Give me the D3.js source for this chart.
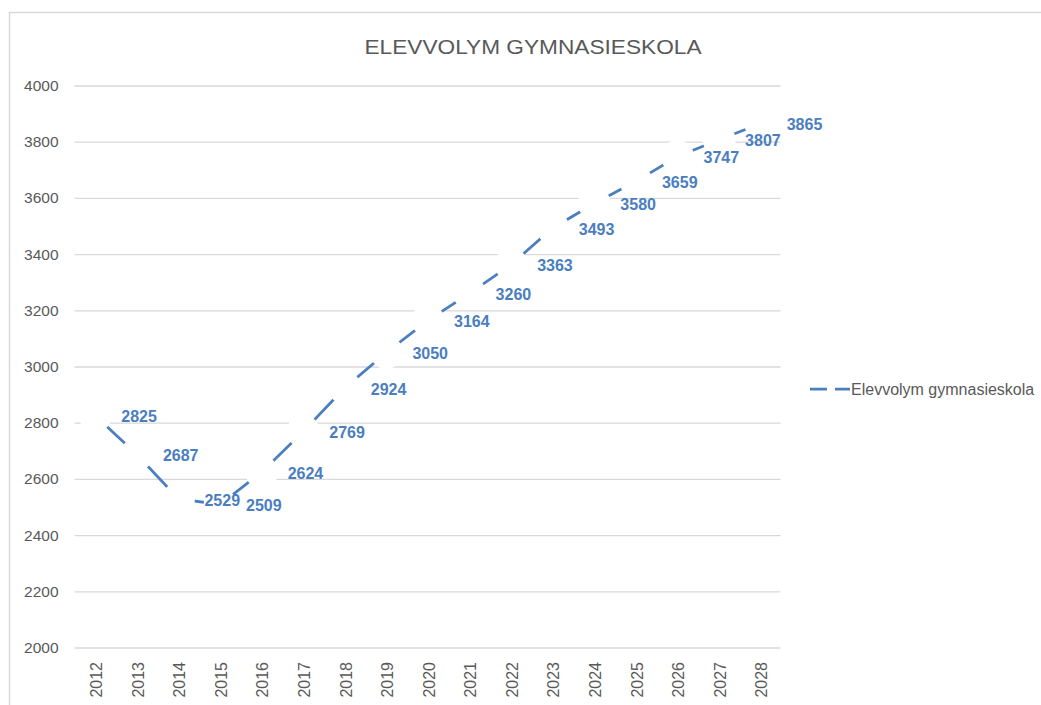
<!DOCTYPE html>
<html>
<head>
<meta charset="utf-8">
<script src="https://cdn.jsdelivr.net/npm/d3@7"></script>
<style>
  body { margin: 0; background: #fff; }
  svg { display: block; font-family: "Liberation Sans", Arial, sans-serif; }
</style>
</head>
<body>
<svg></svg>
<script>
let years = ['2012', '2013', '2014', '2015', '2016', '2017', '2018', '2019', '2020',
             '2021', '2022', '2023', '2024', '2025', '2026', '2027', '2028']
let values = [2825, 2687, 2529, 2509, 2624, 2769, 2924, 3050, 3164,
              3260, 3363, 3493, 3580, 3659, 3747, 3807, 3865]
let yTicks = [2000, 2200, 2400, 2600, 2800, 3000, 3200, 3400, 3600, 3800, 4000]
let seriesName = 'Elevvolym gymnasieskola'
let title = 'ELEVVOLYM GYMNASIESKOLA'

let width = 1041
let height = 705
let plotLeft = 74.5
let plotRight = 781.5
let plotTop = 85.5
let plotBottom = 647.5
let blue = '#4a7ebf'
let grey = '#595959'
let gridColor = '#d9d9d9'

let svg = d3.select('svg')
    .attr('width', width)
    .attr('height', height)

// chart border
svg.append('rect')
    .attr('x', 9.5)
    .attr('y', 12.5)
    .attr('width', width + 10)
    .attr('height', height + 10)
    .attr('fill', 'none')
    .attr('stroke', gridColor)
    .attr('stroke-width', 1.5)

let xScale = d3.scaleBand()
    .domain(years)
    .range([plotLeft, plotRight])

let yScale = d3.scaleLinear()
    .domain([2000, 4000])
    .range([plotBottom, plotTop])

// title
svg.append('text')
    .attr('x', 533)
    .attr('y', 54)
    .attr('text-anchor', 'middle')
    .attr('font-size', 21)
    .attr('fill', grey)
    .attr('textLength', 337)
    .attr('lengthAdjust', 'spacingAndGlyphs')
    .text(title)

// y axis + gridlines
let gridW = plotRight - plotLeft - 1
let yAxis = d3.axisLeft(yScale)
    .tickValues(yTicks)
    .tickSize(0)
    .tickPadding(16)
    .tickFormat(d3.format('d'))
let yg = svg.append('g')
    .attr('transform', 'translate(' + plotLeft + ',0)')
    .call(yAxis)
yg.select('.domain').remove()
yg.selectAll('.tick line')
    .attr('stroke', gridColor)
    .attr('stroke-width', 1.3)
    .attr('x1', 0)
    .attr('x2', gridW)
yg.selectAll('.tick text')
    .attr('font-size', 15.5)
    .attr('fill', grey)
    .attr('font-family', '"Liberation Sans", Arial, sans-serif')

// x axis labels
let xAxis = d3.axisBottom(xScale).tickSize(0)
let xg = svg.append('g')
    .attr('transform', 'translate(0,' + plotBottom + ')')
    .call(xAxis)
xg.select('.domain').remove()
xg.selectAll('.tick text')
    .attr('transform', 'rotate(-90)')
    .attr('text-anchor', 'end')
    .attr('x', -14.5)
    .attr('y', 0)
    .attr('dy', '0.42em')
    .attr('font-size', 16)
    .attr('fill', grey)
    .attr('font-family', '"Liberation Sans", Arial, sans-serif')

let cx = (d, i) => xScale(years[i]) + xScale.bandwidth() / 2

// series line
let line = d3.line()
    .x((d, i) => cx(d, i))
    .y(d => yScale(d))
svg.append('path')
    .datum(values)
    .attr('d', line)
    .attr('fill', 'none')
    .attr('stroke', blue)
    .attr('stroke-width', 2.75)

// white markers hiding the line around each point
svg.selectAll('.marker')
    .data(values)
    .enter()
    .append('circle')
    .attr('class', 'marker')
    .attr('cx', (d, i) => cx(d, i))
    .attr('cy', d => yScale(d))
    .attr('r', 16.5)
    .attr('fill', '#fff')

// data labels
svg.selectAll('.label')
    .data(values)
    .enter()
    .append('text')
    .attr('class', 'label')
    .attr('x', (d, i) => cx(d, i) + 26)
    .attr('y', d => yScale(d))
    .attr('dy', '0.42em')
    .attr('font-size', 16)
    .attr('font-weight', 'bold')
    .attr('fill', blue)
    .text(d => d)

// legend
let legend = svg.append('g').attr('transform', 'translate(810,389)')
legend.append('line')
    .attr('x1', 0)
    .attr('x2', 40)
    .attr('y1', 0)
    .attr('y2', 0)
    .attr('stroke', blue)
    .attr('stroke-width', 2.75)
    .attr('stroke-dasharray', '17 8 15')
legend.append('text')
    .attr('x', 41)
    .attr('y', 0)
    .attr('dy', '0.36em')
    .attr('font-size', 16)
    .attr('fill', grey)
    .text(seriesName)
</script>
</body>
</html>
